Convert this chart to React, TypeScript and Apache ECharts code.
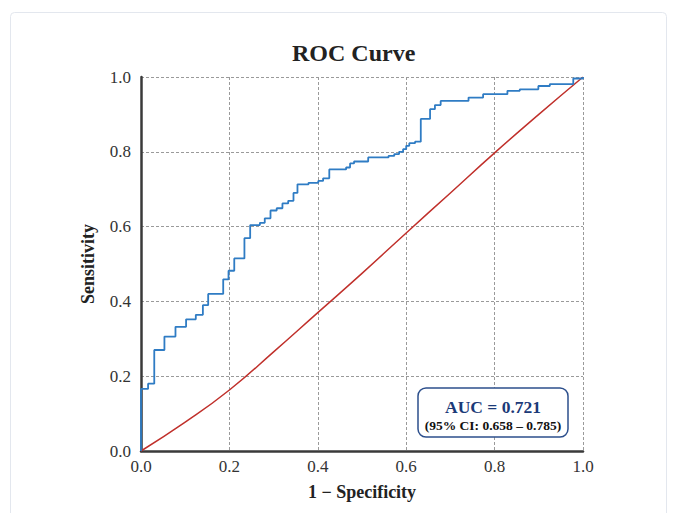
import React, { useEffect, useRef } from "react";
import * as echarts from "echarts";

const rocFpr = [0, 0, 0.016, 0.03, 0.053, 0.078, 0.102, 0.124, 0.14, 0.152, 0.186, 0.198, 0.211, 0.234, 0.247, 0.269, 0.28, 0.293, 0.307, 0.32, 0.333, 0.345, 0.354, 0.379, 0.401, 0.412, 0.426, 0.464, 0.473, 0.482, 0.514, 0.56, 0.573, 0.584, 0.593, 0.6, 0.607, 0.62, 0.633, 0.654, 0.665, 0.678, 0.741, 0.774, 0.829, 0.857, 0.899, 0.925, 0.978, 1.0];
const rocTpr = [0, 0.166, 0.18, 0.27, 0.306, 0.332, 0.352, 0.364, 0.39, 0.42, 0.459, 0.482, 0.515, 0.569, 0.604, 0.61, 0.622, 0.643, 0.649, 0.662, 0.669, 0.69, 0.713, 0.717, 0.722, 0.729, 0.753, 0.758, 0.769, 0.774, 0.785, 0.789, 0.794, 0.8, 0.807, 0.816, 0.823, 0.827, 0.888, 0.914, 0.925, 0.936, 0.945, 0.954, 0.963, 0.967, 0.976, 0.981, 0.996, 1.0];

const refX = [0, 0.1, 0.2, 0.3, 0.4, 0.5, 0.6, 0.7, 0.8, 0.9, 1.0];
const refY = [0, 0.077, 0.163, 0.265, 0.37, 0.475, 0.583, 0.69, 0.797, 0.9, 1.0];

const titleText = "ROC Curve";
const xName = "1 \u2212 Specificity";
const yName = "Sensitivity";
const aucText = "AUC = 0.721";
const ciText = "(95% CI: 0.658 \u2013 0.785)";

const serif = "'Liberation Serif', 'DejaVu Serif', serif";

export default function App() {
  const ref = useRef<HTMLDivElement>(null);
  useEffect(() => {
    document.body.style.margin = "0";
    const chart = echarts.init(ref.current!, null, { renderer: "svg" });
    const axisCommon = {
      type: "value",
      min: 0,
      max: 1,
      interval: 0.2,
      axisLine: { show: true, lineStyle: { color: "#3a3a3a", width: 2.5 } },
      axisTick: { show: false },
      splitLine: { show: true, lineStyle: { color: "#9a9a9a", type: [3, 2], width: 1 } },
      axisLabel: {
        formatter: (v: number) => v.toFixed(1),
        fontFamily: serif,
        fontSize: 17,
        color: "#333",
      },
      nameLocation: "middle",
      nameTextStyle: { fontFamily: serif, fontSize: 18, fontWeight: "bold", color: "#222" },
    };
    chart.setOption({
      animation: false,
      backgroundColor: "#fff",
      title: {
        text: titleText,
        left: 287,
        top: 36,
        textStyle: { fontFamily: serif, fontSize: 24, fontWeight: "bold", color: "#222" },
      },
      grid: { left: 141, right: 90, top: 77, bottom: 62, containLabel: false },
      xAxis: {
        ...axisCommon,
        name: xName,
        nameGap: 32,
        axisLabel: { ...axisCommon.axisLabel, margin: 7 },
      },
      yAxis: {
        ...axisCommon,
        name: yName,
        nameGap: 44,
        axisLabel: { ...axisCommon.axisLabel, margin: 10 },
      },
      series: [
        {
          type: "line",
          data: refX.map((x, i) => [x, refY[i]]),
          smooth: true,
          symbol: "none",
          lineStyle: { color: "#c0302b", width: 1.5 },
          z: 3,
        },
        {
          type: "line",
          data: rocFpr.map((x, i) => [x, rocTpr[i]]),
          step: "end",
          symbol: "none",
          lineStyle: { color: "#2f7cc4", width: 1.8 },
          z: 4,
        },
      ],
      graphic: [
        {
          type: "rect",
          left: 8,
          top: 10,
          shape: { width: 656, height: 510, r: 4 },
          style: { fill: "none", stroke: "#e3e7ee", lineWidth: 1 },
          silent: true,
        },
        {
          type: "rect",
          shape: { x: 418, y: 388, width: 150, height: 49, r: 8 },
          style: { fill: "#fff", stroke: "#2c4f8c", lineWidth: 1.5 },
          z: 10,
        },
        {
          type: "text",
          x: 493,
          y: 407,
          style: {
            text: aucText,
            fontFamily: serif,
            fontSize: 17.5,
            fontWeight: "bold",
            fill: "#1b3a78",
            align: "center",
            verticalAlign: "middle",
          },
          z: 11,
        },
        {
          type: "text",
          x: 493,
          y: 425,
          style: {
            text: ciText,
            fontFamily: serif,
            fontSize: 13.5,
            fontWeight: "bold",
            fill: "#111",
            align: "center",
            verticalAlign: "middle",
          },
          z: 11,
        },
      ],
    });
    return () => chart.dispose();
  }, []);
  return <div ref={ref} style={{ width: 673, height: 513 }} />;
}
